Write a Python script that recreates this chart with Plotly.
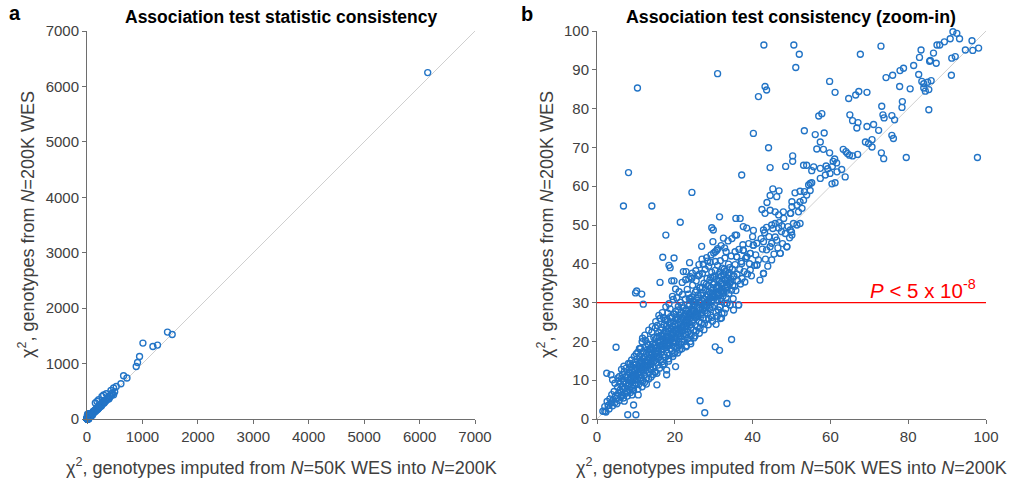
import plotly.graph_objects as go

# ---------------- data ----------------
# dense band along the diagonal (chi2 imputed, chi2 WES)
band_low = [(1.5,2.0),(2.0,3.2),(2.3,1.8),(2.6,4.5),(2.9,3.5),(3.1,2.6),(3.3,5.2),(3.6,4.1),(3.8,6.3),(4.0,3.4),
    (4.2,5.0),(4.4,7.1),(4.6,4.2),(4.8,6.0),(5.0,5.3),(5.1,3.9),(5.3,8.2),(5.5,6.6),(5.7,4.8),(5.9,7.4),
    (2.5,11.8),(3.6,11.4),(4.0,10.1),(4.6,9.2),(2.0,2.0),(2.9,3.5),(3.8,4.4),
    (6.0,9.1),(6.1,5.6),(6.2,7.0),(6.3,10.4),(6.4,6.2),(6.5,8.3),(6.6,11.5),(6.7,7.6),(6.8,5.4),(6.9,9.6),
    (7.0,12.2),(7.1,8.0),(7.2,6.5),(7.3,10.8),(7.4,9.0),(7.5,13.1),(7.6,7.2),(7.7,11.3),(7.8,8.6),(7.9,6.9),
    (8.0,10.0),(8.1,14.3),(8.2,12.0),(8.3,9.2),(8.4,7.5),(8.5,11.7),(8.6,13.5),(8.7,10.4),(8.8,8.3),(8.9,15.2),
    (9.0,12.6),(9.1,9.8),(9.2,7.9),(9.3,11.0),(9.4,13.9),(9.5,10.6),(9.6,16.1),(9.7,8.7),(9.8,12.4),(9.9,14.7),
    (10.0,11.2),(10.0,9.3),(5.6,9.8),(5.8,11.0),(6.3,12.8),(7.0,4.6),(7.8,5.9),(8.6,6.8),(9.4,7.4),(5.4,10.6),
    (6.9,13.6),(8.5,14.3)]
band_mid = [(10.2,13.0),(10.3,15.5),(10.4,10.2),(10.5,17.2),(10.6,12.1),(10.7,8.9),(10.8,14.4),(10.9,11.3),
    (11.0,16.3),(11.1,13.6),(11.2,18.2),(11.3,10.7),(11.4,15.0),(11.5,12.8),(11.6,19.9),(11.7,14.1),(11.8,9.8),
    (11.9,17.4),(12.0,13.2),(12.1,16.0),(12.2,11.4),(12.3,21.6),(12.4,14.8),(12.5,18.6),(12.6,12.5),(12.7,16.9),
    (12.8,10.6),(12.9,15.3),(13.0,19.4),(13.1,13.8),(13.2,19.0),(13.3,17.1),(13.4,11.9),(13.5,15.8),(13.6,20.6),
    (13.7,14.3),(13.8,18.0),(13.9,12.7),(14.0,16.5),(14.1,22.4),(14.2,15.1),(14.3,19.3),(14.4,13.4),(14.5,17.7),
    (14.6,21.0),(14.7,14.9),(14.8,18.9),(14.9,12.2),(15.0,16.8),(15.0,23.5),(10.4,11.6),(10.9,13.0),(11.5,14.6),
    (12.0,15.5),(12.5,13.9),(13.0,14.7),(13.5,17.9),(14.0,18.6),(14.5,15.7),(11.2,10.0),(12.2,9.4),(13.3,10.3),
    (14.4,11.5),(11.9,12.4),(13.6,13.0),
    (15.1,18.3),(15.2,14.6),(15.3,20.8),(15.4,16.2),(15.5,24.1),(15.6,17.6),(15.7,13.9),(15.8,19.7),(15.9,22.3),
    (16.0,16.0),(16.1,18.9),(16.2,25.9),(16.3,15.2),(16.4,21.4),(16.5,17.3),(16.6,23.6),(16.7,19.2),(16.8,14.8),
    (16.9,20.5),(17.0,18.0),(17.1,26.2),(17.2,16.6),(17.3,22.0),(17.4,19.6),(17.5,25.5),(17.6,15.9),(17.7,21.1),
    (17.8,18.4),(17.9,23.9),(18.0,20.2),(18.1,17.0),(18.2,27.3),(18.3,19.0),(18.4,22.6),(18.5,16.4),(18.6,24.7),
    (18.7,20.9),(18.8,28.4),(18.9,18.1),(19.0,23.2),(19.1,21.5),(19.2,17.6),(19.3,26.1),(19.4,19.8),(19.5,24.0),
    (19.6,30.8),(19.7,22.2),(19.8,18.7),(19.9,27.0),(20.0,21.0),(15.3,16.9),(15.8,17.3),(16.2,19.8),(16.7,17.9),
    (17.1,20.3),(17.5,18.9),(17.9,19.4),(18.3,21.3),(18.7,19.5),(19.1,20.6),(19.5,21.7),(19.9,22.8),(15.6,21.2),
    (16.4,22.9),(17.3,24.3),(18.1,25.6),(18.9,26.4),(19.7,25.1),(16.9,13.9),(18.4,15.5),(19.6,16.8),(17.9,12.6),
    (15.4,11.8)]
band_high = [(20.1,24.4),(20.2,19.6),(20.3,27.8),(20.4,22.5),(20.5,31.2),(20.6,20.7),(20.7,25.6),(20.8,23.3),
    (20.9,29.0),(21.0,18.9),(21.1,26.7),(21.2,22.0),(21.3,24.9),(21.4,30.1),(21.5,21.4),(21.6,27.5),(21.7,23.8),
    (21.8,19.8),(21.9,26.0),(22.0,32.1),(22.1,22.7),(22.2,28.6),(22.3,24.3),(22.4,20.6),(22.5,26.9),(22.6,23.1),
    (22.7,30.9),(22.8,25.4),(22.9,21.7),(23.0,28.0),(23.1,24.0),(23.2,33.4),(23.3,26.3),(23.4,22.4),(23.5,32.2),
    (23.6,27.2),(23.7,24.8),(23.8,29.6),(23.9,21.9),(24.0,26.1),(24.1,31.0),(24.2,23.6),(24.3,28.3),(24.4,31.4),
    (24.5,25.2),(24.6,34.5),(24.7,27.7),(24.8,22.9),(24.9,30.2),(25.0,26.5),(20.3,21.6),(20.9,22.1),(21.4,23.0),
    (21.9,23.6),(22.4,24.7),(22.9,25.0),(23.4,25.8),(23.9,26.8),(24.4,27.3),(24.9,27.9),(20.6,18.3),(21.5,19.2),
    (22.4,19.9),(23.3,20.8),(24.2,21.5),(20.8,28.1),(21.8,29.3),(22.8,27.1),(23.7,31.1),(24.7,29.1),(20.0,17.1),
    (21.2,17.8),(23.0,18.9),(24.0,20.0),(24.9,20.9),
    (25.1,29.5),(25.2,24.2),(25.3,32.7),(25.4,27.0),(25.5,35.6),(25.6,33.2),(25.7,28.7),(25.8,23.8),(25.9,31.1),
    (26.0,26.4),(26.1,36.9),(26.2,29.9),(26.3,25.1),(26.4,33.8),(26.5,34.0),(26.6,28.1),(26.7,31.9),(26.8,24.7),
    (26.9,30.5),(27.0,27.4),(27.1,37.5),(27.2,32.4),(27.3,26.0),(27.4,29.2),(27.5,35.0),(27.6,30.8),(27.7,27.9),
    (27.8,38.6),(27.9,33.3),(28.0,25.6),(28.1,31.6),(28.2,29.0),(28.3,36.2),(28.4,27.3),(28.5,34.3),(28.6,30.1),
    (28.7,39.4),(28.8,32.8),(28.9,28.5),(29.0,35.8),(29.1,31.2),(29.2,26.7),(29.3,33.9),(29.4,30.4),(29.5,37.8),
    (29.6,32.2),(29.7,28.8),(29.8,36.6),(29.9,34.7),(30.0,31.5),(25.3,26.1),(25.9,27.2),(26.6,26.9),(27.2,28.3),
    (27.9,29.6),(28.5,30.0),(29.1,29.4),(29.7,31.8),(25.5,22.7),(26.5,23.4),(27.6,24.6),(28.7,25.9),(29.6,26.2),
    (26.2,39.8),(27.0,41.2),(28.4,40.7),(29.3,42.3)]
band_top = [(30.1,35.1),(30.2,29.3),(30.4,38.3),(30.5,32.6),(30.6,27.5),(30.7,36.0),(30.8,33.6),(30.9,30.7),
    (31.0,39.6),(31.1,34.4),(31.2,28.1),(31.3,37.2),(31.4,31.9),(31.5,35.5),(31.6,28.9),(31.7,40.8),(31.8,33.0),
    (31.9,36.8),(32.0,30.3),(32.1,27.2),(32.2,38.9),(32.3,34.9),(32.4,31.7),(32.5,32.4),(32.6,37.4),(32.7,35.9),
    (32.8,29.8),(32.9,41.5),(33.0,33.7),(33.1,38.1),(33.2,31.3),(33.4,29.8),(33.5,36.4),(33.6,34.1),(33.8,39.9),
    (33.9,32.3),(34.0,37.7),(34.2,29.4),(34.3,35.3),(34.5,42.0),(34.6,33.2),(34.8,38.6),(35.0,31.0),(35.1,28.1),
    (35.2,36.9),(30.3,31.4),(31.0,32.5),(31.8,31.1),(32.6,33.0),(33.3,34.6),(34.1,35.0),(34.9,34.4),(30.6,24.4),
    (31.7,25.9),(32.7,27.3),
    (35.4,34.2),(35.5,39.8),(35.7,33.1),(35.9,41.8),(36.0,37.3),(36.2,35.6),(36.4,29.4),(36.5,43.7),(36.7,38.5),
    (36.9,34.8),(37.1,40.6),(37.3,36.2),(37.5,44.9),(37.6,43.5),(37.8,38.0),(38.0,35.3),(38.2,41.4),(38.5,41.8),
    (38.7,37.4),(39.0,45.2),(39.2,40.0),(39.4,38.4),(39.4,42.7),(39.7,36.9),(40.0,47.0),(40.2,44.8),(40.5,39.6),
    (40.8,42.3),(41.1,39.7),(41.1,45.3),(41.5,41.0),(41.9,35.8),(42.2,46.5),(42.5,43.8),(42.8,37.5),(42.8,45.7),
    (43.1,48.0),(43.3,41.2),(43.6,43.6),(43.9,39.4),(44.2,47.0),(44.5,44.4),(44.9,41.0),(44.9,45.3),(45.2,49.1),
    (45.5,42.5),(45.8,46.9),(46.2,46.1),(46.5,44.1),(46.8,50.6),(47.1,42.7),(47.4,48.3),(47.7,45.2),(48.0,51.7),
    (48.4,47.8),(48.8,44.4),(49.1,49.6),(49.5,46.7),(49.8,53.0),(50.0,48.2)]
band_extra = [(8.2,9.0),(8.6,10.9),(9.1,11.4),(9.5,12.9),(9.9,10.3),(10.3,12.6),(10.8,11.9),(11.1,14.8),
    (11.4,12.0),(11.8,15.6),(12.2,13.7),(12.6,14.4),(12.9,17.8),(13.2,15.0),(13.6,16.7),(13.9,14.1),(14.3,17.0),
    (14.7,16.1),(15.0,19.2),(15.4,18.4),(15.7,15.5),(16.1,20.1),(16.5,18.6),(16.8,21.8),(17.2,19.0),(17.6,22.7),
    (17.9,21.0),(18.3,23.4),(18.6,20.3),(19.0,24.9),(19.3,22.4),(19.7,20.0),(20.1,23.0),(20.4,26.1),(20.8,24.1),
    (21.1,21.2),(21.5,25.8),(21.8,22.5),(22.2,26.5),(22.5,23.9),(22.9,27.8),(23.2,25.2),(23.6,29.1),(23.9,24.3),
    (24.3,26.8),(24.6,30.4),(25.0,28.1),(25.3,30.2),(25.7,26.6),(26.0,32.0),(26.4,28.7),(26.7,30.0),(27.1,33.9),
    (27.4,31.0),(27.8,28.6),(28.1,34.7),(28.5,32.0),(28.8,30.9),(29.2,36.5),(29.5,33.1),(29.9,30.6),(30.2,36.8),
    (30.6,34.0),(30.9,31.9),(31.3,33.8),(31.6,37.9),(32.0,35.1),(32.3,32.9),(32.7,38.6),(33.0,36.0),(33.4,33.2),
    (33.7,37.1),(34.1,39.0),(34.4,36.1),
    (10.1,16.8),(10.9,18.1),(11.7,20.8),(12.5,20.2),(13.3,22.9),(14.2,23.8),(15.1,25.1),(15.9,26.7),(16.8,27.4),
    (17.7,28.9),(18.5,29.7),(19.4,31.6),(20.2,33.5),(21.1,32.8),(21.9,35.2),(22.8,35.9),(23.6,36.1),(24.5,37.6),
    (25.4,38.2),(26.3,37.3),(27.3,39.9),(28.2,41.6),(29.1,40.4),(30.0,42.8),(31.0,43.9),(31.9,44.7),(32.8,44.1),
    (33.7,45.9),(34.7,46.5),
    (9.0,6.2),(10.5,7.7),(11.6,8.3),(12.7,9.0),(13.9,10.8),(15.0,12.1),(16.1,13.1),(17.3,14.2),(18.4,14.9),
    (19.5,16.1),(20.7,17.0),(21.8,18.1),(22.9,18.6),(24.1,19.4),(25.2,21.4),(26.3,22.1),(27.5,23.0),(28.6,24.3),
    (29.7,25.2),(30.9,26.5),(32.0,26.0),(33.1,28.4)]
# scattered points away from the band
spread = [(21.4,50.7),(31.5,52.1),(35.7,51.7),(36.8,51.7),(17.7,47.4),(16.9,41.7),(16.2,35.2),(18.5,39.6),
    (18.8,39.0),(19.8,41.5),(19.2,35.6),(19.8,35.6),(23.8,40.3),(22.2,38.0),(22.9,38.0),(24.4,36.3),(24.0,36.7),
    (26.9,44.5),(29.5,49.3),(29.9,48.7),(32.5,46.6),(29.8,45.7),(30.4,43.1),(30.8,43.5),(30.4,40.6),(33.2,43.1),
    (35.5,47.4),(35.9,47.4),(35.5,43.1),(35.1,36.7),(33.4,35.4),(32.0,33.7),(36.4,29.4),(31.6,28.9),(34.2,29.4),
    (33.4,29.8),(30.4,18.6),(31.5,17.7),(34.6,20.5),(20.2,13.5),(26.5,4.7),(33.4,4.0),(27.7,1.6),(7.9,1.1),
    (10.0,1.1),(4.9,18.5),(17.5,25.5),(11.1,18.2),(8.9,13.5),(9.4,3.6),(10.6,6.2),(15.4,8.8),(17.9,11.4),
    (10.2,33.0),(9.9,32.5),(11.9,29.6),(11.5,32.2),(6.8,54.9),(14.1,54.9),(8.1,63.5),(10.4,85.3),(24.4,58.4),
    (37.2,62.9),(31.0,89.0),(37.6,49.6),(38.5,49.2),(40.2,48.6),(42.8,48.7),(43.6,49.4),(44.9,50.0),(45.8,50.4),
    (46.7,49.2),(47.5,49.8),(49.7,48.7),(50.1,47.4),(51.4,50.0),(52.2,50.4),(50.5,50.4),(48.8,44.4),(47.1,42.7),
    (39.4,42.7),(37.6,43.5),(35.9,41.8),(37.2,40.1),(38.5,41.8),(40.2,44.8),(41.1,39.7),(42.8,37.5)]
upper = [(91.5,99.8),(92.5,99.4),(89.3,97.2),(90.8,98.0),(93.2,98.0),(96.4,97.5),(87.4,96.4),(88.1,96.4),
    (86.5,94.3),(94.7,95.1),(96.6,95.0),(98.1,95.6),(83.3,95.1),(82.9,93.2),(87.2,91.7),(85.7,92.4),(85.5,92.2),
    (91.2,93.0),(92.1,93.4),(81.4,91.1),(78.8,90.4),(77.9,89.8),(82.7,88.8),(91.1,88.6),(76.0,88.6),(74.3,88.0),
    (77.8,85.7),(80.5,85.1),(83.5,87.0),(84.0,86.4),(85.0,86.8),(85.9,87.2),(84.0,85.3),(84.4,84.5),(85.3,84.9),
    (85.3,79.7),(73.0,96.1),(67.7,94.0),(59.8,87.0),(61.2,84.2),(64.7,82.6),(66.5,83.5),(67.3,84.4),(69.4,84.2),
    (73.2,80.6),(78.5,81.8),(78.4,80.3),(73.5,78.4),(73.8,77.6),(75.8,78.2),(76.5,77.1),(65.0,78.4),(65.7,76.9),
    (66.8,75.0),(67.1,76.4),(69.4,75.4),(71.1,75.9),(72.4,74.4),(75.8,73.1),(76.2,72.3),(69.0,71.4),(69.8,71.0),
    (70.7,72.0),(70.7,70.1),(73.1,68.6),(73.7,67.1),(79.5,67.4),(97.8,67.4),(57.0,78.1),(57.8,78.7),(53.3,74.3),
    (56.1,73.3),(58.4,73.7),(57.4,71.4),(56.5,69.6),(58.2,69.5),(59.8,68.6),(63.3,69.5),(64.0,68.9),(64.4,68.4),
    (64.9,68.0),(65.7,67.8),(67.0,68.2),(61.1,67.0),(60.7,66.4),(61.6,66.0),(60.5,65.1),(58.9,65.2),(59.3,64.5),
    (57.4,64.6),(55.7,65.0),(55.2,64.0),(53.9,65.4),(53.1,65.4),(59.9,63.3),(61.7,63.7),(62.9,64.3),(63.8,62.4),
    (61.2,60.9),(60.4,60.6),(58.7,62.9),(57.4,62.0),(54.8,60.7),(55.2,60.9),(54.4,60.3),(53.3,58.6),(52.2,58.7),
    (50.9,58.3),(50.3,67.8),(50.3,66.4),(48.5,65.1),(44.5,64.8),(44.1,69.9),(40.2,73.6),(41.5,83.1),(43.2,85.7),
    (43.6,84.8),(42.9,96.4),(50.6,96.4),(52.0,94.0),(51.1,90.6),(45.2,59.3),(44.5,57.6),(46.2,57.3),(46.8,58.8),
    (43.7,55.8),(42.4,54.0),(43.2,53.0),(44.5,53.8),(45.8,53.4),(46.7,52.6),(47.9,53.4),(49.7,53.0),(50.1,54.7),
    (51.4,55.1),(52.2,56.0),(53.1,56.4),(53.9,57.7),(54.8,58.9),(50.1,56.0),(52.7,54.3),(51.8,53.4)]
# strong associations only visible in panel a
large = [(6147,6250),(1452,1568),(1537,1524),(1009,1369),(1189,1308),(1272,1333),(948,1128),(912,1020),
    (888,948),(660,780),(721,739),(612,636),(528,587),(480,559),(432,515),(450,468),(348,456),(300,432),
    (270,407),(210,348),(180,317),(150,288),(480,438),(420,407),(120,140),(130,125),(140,150),(160,170),
    (170,160),(190,200),(200,185),(220,240),(230,215),(250,260),(260,235),(280,300),(310,290),(330,340),
    (360,350),(380,390),(400,370),(110,130),(105,115),(115,105),(125,145),(135,128),(145,160),(155,140),
    (165,185),(175,168),(185,195),(195,178),(205,225),(215,200),(225,250),(240,230),(255,275),(270,255),
    (290,280),(320,310),(340,325),(370,380),(390,360),(410,420),(440,430),(460,450),(500,490)]

zoom_pts = band_low + band_mid + band_high + band_top + band_extra + spread + upper
all_pts = zoom_pts + large

range_a = [0, 7000]
range_b = [0, 100]
ticks_a = [0, 1000, 2000, 3000, 4000, 5000, 6000, 7000]
ticks_bx = [0, 20, 40, 60, 80, 100]
ticks_by = [0, 10, 20, 30, 40, 50, 60, 70, 80, 90, 100]
sig_threshold = 30

title_a = "Association test statistic consistency"
title_b = "Association test consistency (zoom-in)"
xlab = "χ<sup>2</sup>, genotypes imputed from <i>N</i>=50K WES into <i>N</i>=200K"
ylab = "χ<sup>2</sup>, genotypes from <i>N</i>=200K WES"
sig_label = "<i>P</i> < 5 x 10<sup>-8</sup>"

# ---------------- figure ----------------
BLUE = "#2274C6"
FONT = "Liberation Sans, Arial, sans-serif"
W, H = 1011, 485

fig = go.Figure()
marker = dict(symbol="circle-open", size=6, color=BLUE, line=dict(width=1.35, color=BLUE))

# diagonals
fig.add_trace(go.Scatter(x=range_a, y=range_a, mode="lines", line=dict(color="#cfcfcf", width=1),
                         xaxis="x", yaxis="y", hoverinfo="skip"))
fig.add_trace(go.Scatter(x=range_b, y=range_b, mode="lines", line=dict(color="#cfcfcf", width=1),
                         xaxis="x2", yaxis="y2", hoverinfo="skip"))
# significance line
fig.add_trace(go.Scatter(x=range_b, y=[sig_threshold, sig_threshold], mode="lines",
                         line=dict(color="#ff0000", width=1.3), xaxis="x2", yaxis="y2", hoverinfo="skip"))
# points
fig.add_trace(go.Scatter(x=[p[0] for p in all_pts], y=[p[1] for p in all_pts], mode="markers",
                         marker=marker, xaxis="x", yaxis="y", cliponaxis=False))
fig.add_trace(go.Scatter(x=[p[0] for p in zoom_pts], y=[p[1] for p in zoom_pts], mode="markers",
                         marker=marker, xaxis="x2", yaxis="y2", cliponaxis=False))

def px_x(p):
    return p / W

def px_y(p):
    return 1 - p / H

axis_common = dict(showline=True, linecolor="#6e6e6e", linewidth=1, ticks="outside", ticklen=4,
                   tickcolor="#6e6e6e", showgrid=False, zeroline=False, automargin=False,
                   tickfont=dict(family=FONT, size=15, color="#404040"))
ydom = [px_y(419), px_y(31)]
fig.update_layout(
    width=W, height=H, margin=dict(l=0, r=0, t=0, b=0, autoexpand=False),
    paper_bgcolor="white", plot_bgcolor="white", showlegend=False,
    xaxis=dict(domain=[px_x(87), px_x(475)], range=range_a, tickvals=ticks_a, anchor="y", **axis_common),
    yaxis=dict(domain=ydom, range=range_a, tickvals=ticks_a, anchor="x", **axis_common),
    xaxis2=dict(domain=[px_x(597), px_x(986)], range=range_b, tickvals=ticks_bx, anchor="y2", **axis_common),
    yaxis2=dict(domain=ydom, range=range_b, tickvals=ticks_by, anchor="x2", **axis_common),
)

ann = []
def add_text(text, x, y, size, bold=False, angle=0, color="#262626", xanchor="center", yanchor="middle"):
    ann.append(dict(text=f"<b>{text}</b>" if bold else text, x=px_x(x), y=px_y(y), xref="paper", yref="paper",
                    showarrow=False, textangle=angle, xanchor=xanchor, yanchor=yanchor,
                    font=dict(family=FONT, size=size, color=color)))

add_text("a", 15, 13, 20, bold=True, color="black")
add_text("b", 527, 14, 20, bold=True, color="black")
add_text(title_a, 281, 17, 17.5, bold=True, color="black")
add_text(title_b, 791, 17, 17.8, bold=True, color="black")
add_text(xlab, 281, 466, 18, color="#404040")
add_text(xlab, 791, 466, 18, color="#404040")
add_text(ylab, 26, 225, 18, angle=-90, color="#404040")
add_text(ylab, 545, 225, 18, angle=-90, color="#404040")
ann.append(dict(text=sig_label, x=98.0, y=sig_threshold + 3.5, xref="x2", yref="y2", showarrow=False,
                xanchor="right", yanchor="middle", font=dict(family=FONT, size=20.5, color="#ff0000")))
fig.update_layout(annotations=ann)

# remove the browser's default 8px body margin so the figure sits at the page's top-left corner
fig.write_html("out.html", config={"displayModeBar": False},
               post_script="document.body.style.margin='0';")
